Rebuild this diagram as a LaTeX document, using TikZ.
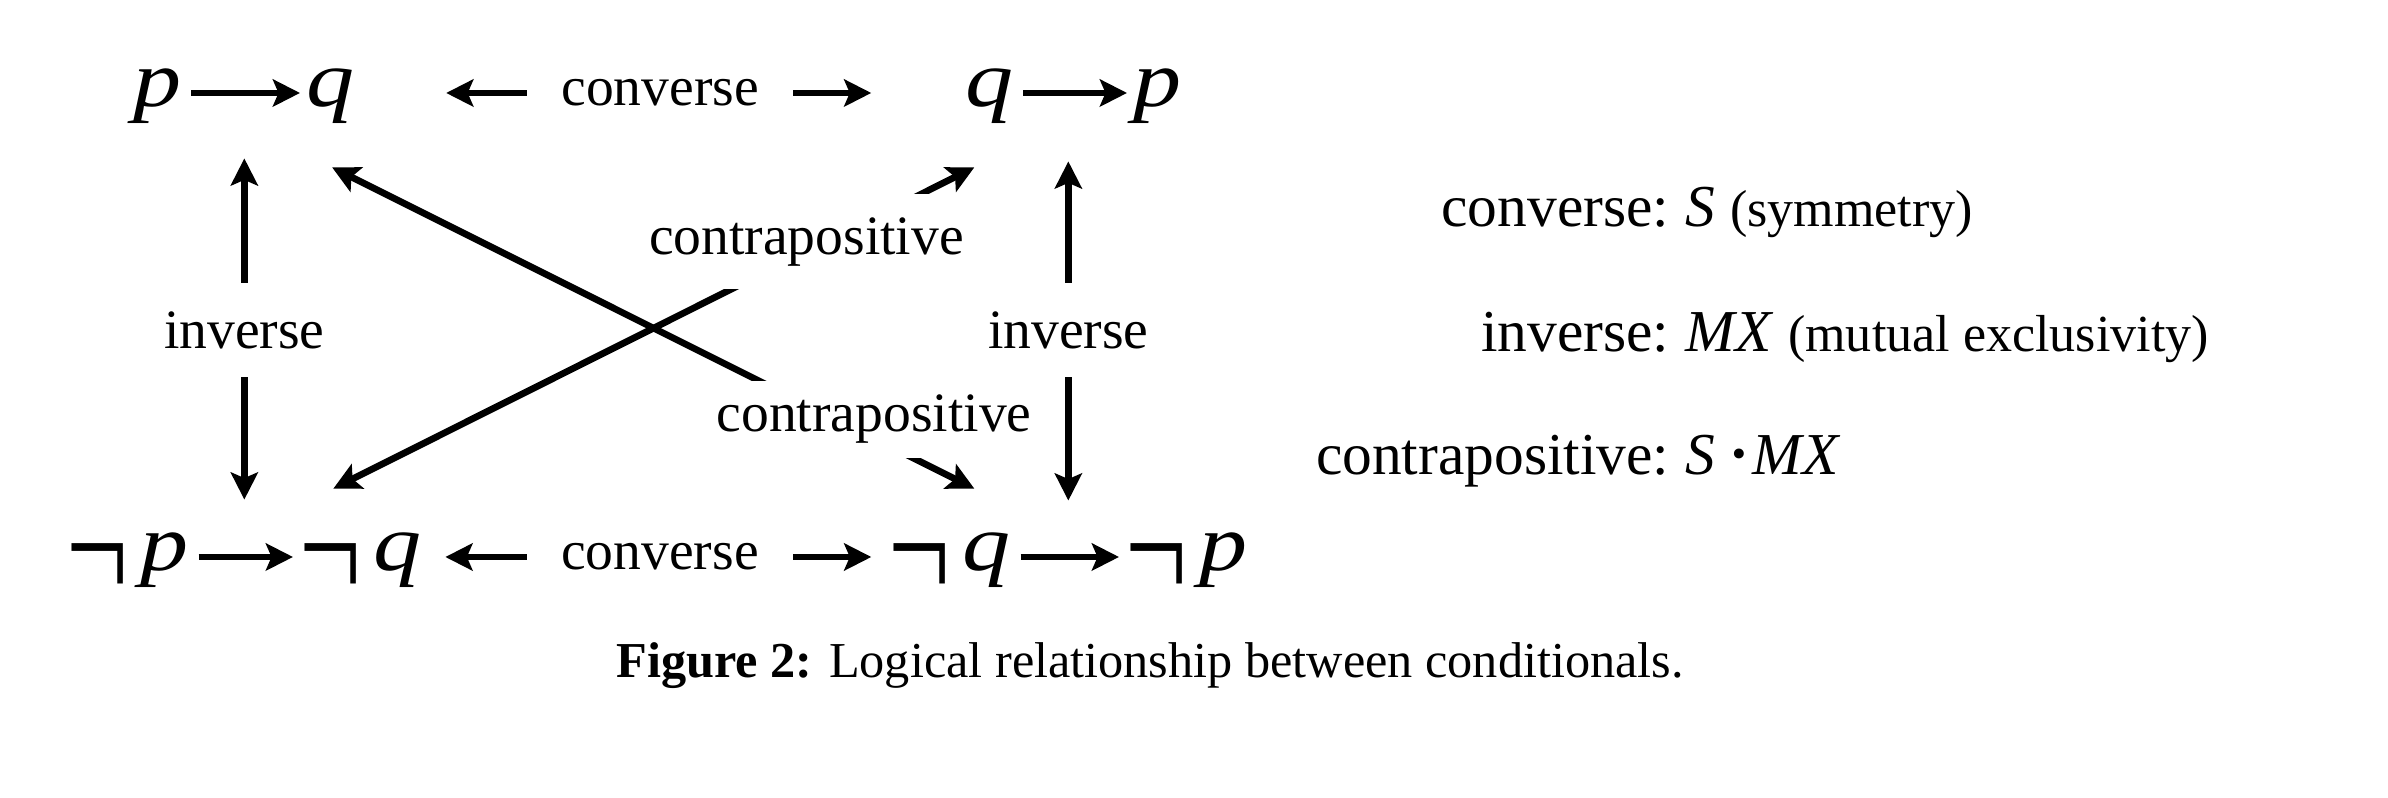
\documentclass[tikz,border=0pt]{standalone}
\usepackage{graphicx}
\usepackage{fontspec}
\setmainfont{Liberation Serif}
\usetikzlibrary{arrows.meta,fit,positioning}
\newcommand\var[1]{\scalebox{1.08}[0.9]{\itshape #1}}
\newcommand\notsign{{\upshape\raisebox{-0.285cm}{\scalebox{1.24}[1.76]{¬}}}\kern0.12cm}
\tikzset{
  >={Stealth[length=7.7pt,width=7.7pt,inset=1.6pt]},
  part/.style={anchor=base west,inner sep=0pt,text height=0.45cm,text depth=0.17cm,
    font=\fontsize{25.3}{30}\selectfont},
  formula/.style={inner sep=0pt},
  imp/.style={->,line width=1.9pt,shorten <=0.09cm,shorten >=0.06cm},
  rel/.style={<->,line width=1.9pt},
  lab/.style={fill=white,font=\fontsize{15.8}{19}\selectfont},
  key/.style={inner sep=0pt,font=\fontsize{16.9}{20}\selectfont}
}
\begin{document}
\begin{tikzpicture}[x=0.01cm,y=-0.01cm]
\useasboundingbox (0,0) rectangle (2388,798);
\node[part] (p1) at (133,107) {\var{p}};
\node[part] (q1) at (306,107) {\var{q}};
\node[part] (q2) at (965,107) {\var{q}};
\node[part] (p2) at (1133,107) {\var{p}};
\node[part] (np1) at (66,571) {\notsign\var{p}};
\node[part] (nq1) at (299,571) {\notsign\var{q}};
\node[part] (nq2) at (888,571) {\notsign\var{q}};
\node[part] (np2) at (1125,571) {\notsign\var{p}};
\draw[imp] (p1) -- (q1);
\draw[imp] (q2) -- (p2);
\draw[imp] (np1) -- (nq1);
\draw[imp] (nq2) -- (np2);
\node[formula,fit=(p1)(q1)] (pq) {};
\node[formula,fit=(q2)(p2)] (qp) {};
\node[formula,fit=(np1)(nq1)] (npnq) {};
\node[formula,fit=(nq2)(np2)] (nqnp) {};
\draw[rel,shorten <=0.9cm,shorten >=0.93cm] (pq) -- (qp)
  node[lab,midway,inner xsep=0.34cm] {converse};
\draw[rel,shorten <=0.22cm,shorten >=0.16cm] (npnq) -- (nqnp)
  node[lab,pos=0.51,inner xsep=0.34cm] {converse};
\draw[rel,shorten <=0.33cm,shorten >=0.25cm] (pq.south -| npnq) -- (npnq.north)
  node[lab,midway,yshift=-0.05cm,inner ysep=0.28cm] {inverse};
\draw[rel,shorten <=0.36cm,shorten >=0.24cm] (qp.south -| nqnp) -- (nqnp.north)
  node[lab,midway,yshift=-0.05cm,inner ysep=0.28cm] {inverse};
\coordinate (cpq) at ([shift={(-24,42)}]pq.south east);
\coordinate (cqp) at ([shift={(10,42)}]qp.south west);
\coordinate (cnpnq) at ([shift={(-90,-36)}]npnq.north east);
\coordinate (cnqnp) at ([shift={(87,-36)}]nqnp.north west);
\draw[rel] (cpq) -- (cnqnp)
  node[lab,pos=0.844,yshift=0.19cm,inner xsep=0.05cm,inner ysep=0.145cm] {contrapositive};
\draw[rel] (cnpnq) -- (cqp)
  node[lab,pos=0.738,yshift=0.1cm,inner xsep=0.05cm,inner ysep=0.235cm] {contrapositive};
\node[key,anchor=base east] (conv) at (1670,227) {converse:};
\node[key,anchor=base west] (conv-def) at (conv.base east)
  {\ \textit{S} {\fontsize{14.8}{18}\selectfont(symmetry)}};
\node[key,anchor=base east] (inv) at (1670,352) {inverse:};
\node[key,anchor=base west] (inv-def) at (inv.base east)
  {\ \textit{MX} {\fontsize{14.8}{18}\selectfont(mutual exclusivity)}};
\node[key,anchor=base east] (contra) at (1670,475) {contrapositive:};
\node[key,anchor=base west] (contra-def) at (contra.base east)
  {\ \textit{S}\,\raisebox{-0.07cm}{\scalebox{1.4}{·}}\textit{MX}};
\node[inner sep=0pt,anchor=base,font=\fontsize{14.3}{17}\selectfont] (caption) at (1150,678)
  {\textbf{Figure 2:} Logical relationship between conditionals.};
\end{tikzpicture}
\end{document}
